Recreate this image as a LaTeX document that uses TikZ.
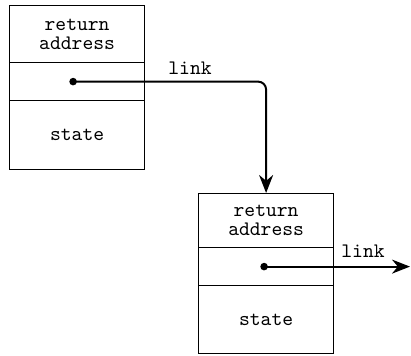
\documentclass[tikz,border=0pt]{standalone}
\usetikzlibrary{positioning,arrows.meta}

\tikzset{
  cell/.style={draw, line width=0.6pt, minimum width=67.5pt, inner sep=0pt,
               align=center, font=\fontsize{10.3}{9.6}\selectfont\ttfamily},
  link/.style={line width=1pt, -{Stealth[length=9pt,width=7pt]}, rounded corners=4pt},
  lbl/.style={font=\fontsize{10.3}{12}\selectfont\ttfamily, inner sep=0pt}
}

\begin{document}
\begin{tikzpicture}[x=0.5pt,y=0.5pt]

  \useasboundingbox (0,0) rectangle (411,355);

  % first frame
  \node [cell, minimum height=28.5pt, anchor=north west] (ret1) at (9,350) {return\\address};
  \node [cell, minimum height=19pt, below=-0.6pt of ret1] (lnk1) {};
  \node [cell, minimum height=34.5pt, below=-0.6pt of lnk1] (st1) {state};

  % second frame
  \node [cell, minimum height=27pt, anchor=north west] (ret2) at (198,162) {return\\address};
  \node [cell, minimum height=19pt, below=-0.6pt of ret2] (lnk2) {};
  \node [cell, minimum height=34pt, below=-0.6pt of lnk2] (st2) {state};

  % pointers
  \coordinate (p1) at ([xshift=-2pt]lnk1.center);
  \coordinate (p2) at ([xshift=-1pt]lnk2.center);
  \coordinate (out) at (410,0 |- p2);

  \fill (p1) circle [radius=1.9pt];
  \fill (p2) circle [radius=1.9pt];

  \draw [link] (p1) -| (ret2.north);
  \draw [link] (p2) -- (out);

  \node [lbl] (l1) at (190,287) {link};
  \node [lbl] (l2) at (363,104) {link};

\end{tikzpicture}
\end{document}
